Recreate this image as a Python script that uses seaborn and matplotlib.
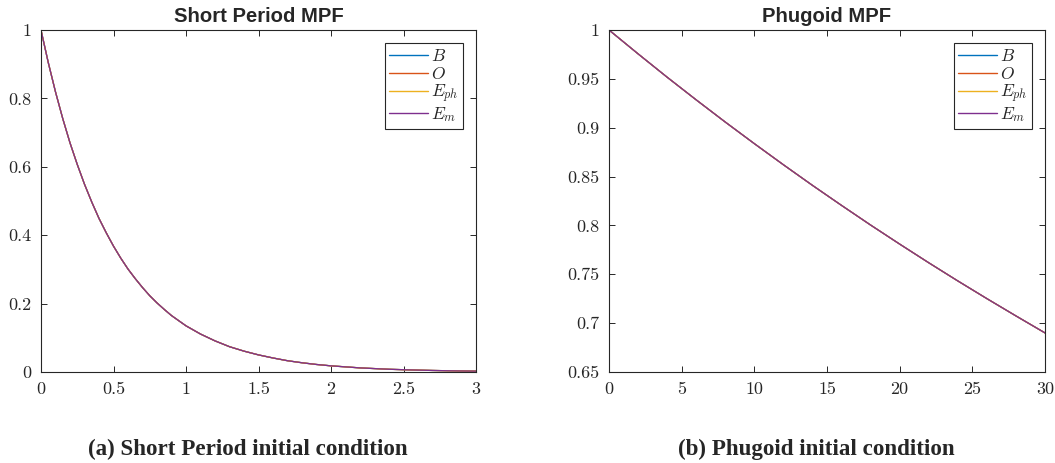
import numpy as np
import pandas as pd
import matplotlib
matplotlib.use("Agg")
import matplotlib.pyplot as plt
from matplotlib import font_manager as fm
import seaborn as sns

# ---------------- data ----------------
series_names = ["$B$", "$O$", "$E_{ph}$", "$E_m$"]
series_colors = ["#0072BD", "#D95319", "#EDB120", "#7E2F8E"]

sp_time = [0.0, 0.05, 0.1, 0.15, 0.2, 0.25, 0.3, 0.35, 0.4, 0.45, 0.5,
           0.55, 0.6, 0.65, 0.7, 0.75, 0.8, 0.85, 0.9, 0.95, 1.0,
           1.1, 1.2, 1.3, 1.4, 1.5, 1.6, 1.7, 1.8, 1.9, 2.0,
           2.1, 2.2, 2.3, 2.4, 2.5, 2.6, 2.7, 2.8, 2.9, 3.0]
sp_mpf = [1.0, 0.905, 0.819, 0.741, 0.670, 0.607, 0.549, 0.497, 0.449, 0.407, 0.368,
          0.333, 0.301, 0.273, 0.247, 0.223, 0.202, 0.183, 0.165, 0.150, 0.135,
          0.111, 0.091, 0.074, 0.061, 0.050, 0.041, 0.033, 0.027, 0.022, 0.018,
          0.015, 0.012, 0.010, 0.008, 0.0067, 0.0055, 0.0045, 0.0037, 0.0030, 0.0025]

ph_time = [0, 2, 4, 6, 8, 10, 12, 14, 16, 18, 20, 22, 24, 26, 28, 30]
ph_mpf = [1.0, 0.9756, 0.9517, 0.9285, 0.9058, 0.8837, 0.8621, 0.8410,
          0.8205, 0.8004, 0.7809, 0.7618, 0.7432, 0.7251, 0.7074, 0.690]

sp_xticks = [0, 0.5, 1, 1.5, 2, 2.5, 3]
sp_xticklabels = ["0", "0.5", "1", "1.5", "2", "2.5", "3"]
sp_yticks = [0, 0.2, 0.4, 0.6, 0.8, 1]
sp_yticklabels = ["0", "0.2", "0.4", "0.6", "0.8", "1"]

ph_xticks = [0, 5, 10, 15, 20, 25, 30]
ph_xticklabels = ["0", "5", "10", "15", "20", "25", "30"]
ph_yticks = [0.65, 0.7, 0.75, 0.8, 0.85, 0.9, 0.95, 1]
ph_yticklabels = ["0.65", "0.7", "0.75", "0.8", "0.85", "0.9", "0.95", "1"]

titles = ["Short Period MPF", "Phugoid MPF"]
captions = ["(a) Short Period initial condition", "(b) Phugoid initial condition"]

# ---------------- style ----------------
sns.set_style("ticks")
plt.rcParams["mathtext.fontset"] = "cm"
plt.rcParams["font.family"] = ["DejaVu Sans"]
axis_color = "#262626"


def bold_font(family, size):
    for f in fm.fontManager.ttflist:
        if f.name == family and f.style == "normal" and f.weight in (700, "bold") \
                and "Narrow" not in f.fname:
            return fm.FontProperties(fname=f.fname, size=size)
    return fm.FontProperties(family=family, weight="bold", size=size)


title_fp = bold_font("Liberation Sans", 14.6)
caption_fp = bold_font("Liberation Serif", 16.6)


def long_frame(t, v):
    rows = []
    for name in series_names:
        for ti, vi in zip(t, v):
            rows.append({"t": ti, "v": vi, "series": name})
    return pd.DataFrame(rows)


fig = plt.figure(figsize=(10.55, 4.63), dpi=100)
W, H = 1055, 463
ax_specs = [
    (41, 476, 30, 372),
    (609, 1045, 30, 372),
]

panels = [
    (sp_time, sp_mpf, (0, 3), (0, 1), sp_xticks, sp_xticklabels, sp_yticks, sp_yticklabels),
    (ph_time, ph_mpf, (0, 30), (0.65, 1), ph_xticks, ph_xticklabels, ph_yticks, ph_yticklabels),
]

for i, ((l, r, t, b), (xt, yv, xl, yl, xtk, xtl, ytk, ytl)) in enumerate(zip(ax_specs, panels)):
    ax = fig.add_axes([l / W, 1 - b / H, (r - l) / W, (b - t) / H])
    df = long_frame(xt, yv)
    sns.lineplot(data=df, x="t", y="v", hue="series", palette=series_colors,
                 linewidth=0.9, ax=ax, legend=False)
    ax.set_xlim(*xl)
    ax.set_ylim(*yl)
    ax.set_xticks(xtk, xtl, fontfamily="cmr10", fontsize=13)
    ax.set_yticks(ytk, ytl, fontfamily="cmr10", fontsize=13)
    ax.set_xlabel("")
    ax.set_ylabel("")
    ax.tick_params(direction="in", length=4, width=0.7, color=axis_color,
                   top=True, right=True, labelcolor="#262626", pad=7)
    for s in ax.spines.values():
        s.set_color(axis_color)
        s.set_linewidth(0.8)
        s.set_visible(True)
    ax.set_title(titles[i], fontproperties=title_fp, pad=6)
    handles = [plt.Line2D([], [], color=c, lw=1.0) for c in series_colors]
    leg = ax.legend(handles, series_names, loc="upper right",
                    bbox_to_anchor=(1 - 13 / (r - l), 1 - 13 / (b - t)),
                    prop={"size": 12.5}, frameon=True, fancybox=False, framealpha=1,
                    edgecolor=axis_color, handlelength=2.2, handletextpad=0.2,
                    labelspacing=0.0, borderpad=0.25, borderaxespad=0)
    leg.get_frame().set_linewidth(0.8)

fig.text(248 / W, 1 - 455 / H, captions[0], ha="center", va="baseline",
         fontproperties=caption_fp)
fig.text(816.5 / W, 1 - 455 / H, captions[1], ha="center", va="baseline",
         fontproperties=caption_fp)

fig.savefig("out.png", dpi=100, facecolor="white")
